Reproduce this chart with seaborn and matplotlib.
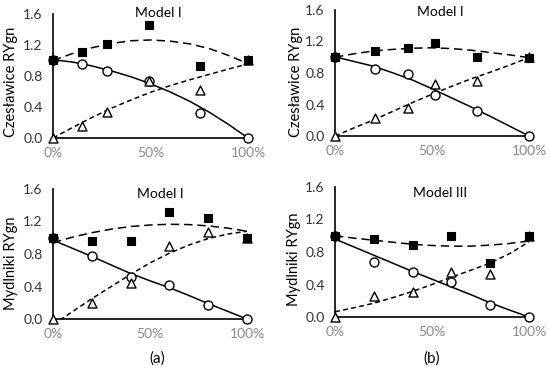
import matplotlib
matplotlib.use("Agg")
import matplotlib.pyplot as plt
import seaborn as sns
import pandas as pd

# ---------------- data ----------------
x_fit = [0.0, 0.1, 0.2, 0.3, 0.4, 0.5, 0.6, 0.7, 0.8, 0.9, 1.0]

# Panel 1: Czesławice, Model I (a)
x_pts1 = [0.0, 0.147, 0.275, 0.493, 0.755, 1.0]
sq1 = [1.0, 1.106, 1.213, 1.458, 0.933, 1.006]
ci1 = [1.0, 0.95, 0.868, 0.735, 0.32, 0.0]
tr1 = [0.0, 0.155, 0.33, 0.735, 0.62, 1.0]
fit_sq1 = [1.0, 1.09, 1.165, 1.22, 1.255, 1.265, 1.25, 1.215, 1.155, 1.065, 0.96]
fit_ci1 = [1.01, 0.98, 0.93, 0.865, 0.79, 0.70, 0.595, 0.475, 0.335, 0.175, 0.0]
fit_tr1 = [0.0, 0.135, 0.265, 0.385, 0.49, 0.59, 0.675, 0.75, 0.82, 0.89, 0.955]

# Panel 2: Czesławice, Model I (b)
x_pts2 = [0.0, 0.206, 0.378, 0.515, 0.734, 1.0]
sq2 = [1.0, 1.083, 1.114, 1.185, 1.007, 0.994]
ci2 = [1.0, 0.851, 0.787, 0.52, 0.317, 0.0]
tr2 = [0.0, 0.225, 0.352, 0.66, 0.698, 1.0]
fit_sq2 = [1.0, 1.045, 1.08, 1.10, 1.115, 1.12, 1.11, 1.09, 1.06, 1.03, 0.995]
fit_ci2 = [1.005, 0.945, 0.885, 0.80, 0.71, 0.60, 0.485, 0.37, 0.25, 0.125, 0.0]
fit_tr2 = [0.0, 0.105, 0.205, 0.315, 0.425, 0.53, 0.63, 0.725, 0.81, 0.90, 0.995]

# Panel 3: Mydlniki, Model I (a)
x_pts3 = [0.0, 0.2, 0.4, 0.6, 0.8, 1.0]
sq3 = [1.0, 0.96, 0.96, 1.313, 1.247, 1.0]
ci3 = [1.0, 0.775, 0.52, 0.418, 0.172, 0.0]
tr3 = [0.0, 0.193, 0.44, 0.898, 1.075, 1.0]
fit_sq3 = [0.94, 1.007, 1.062, 1.106, 1.138, 1.157, 1.166, 1.162, 1.146, 1.119, 1.08]
fit_ci3 = [0.97, 0.87, 0.77, 0.665, 0.56, 0.47, 0.385, 0.29, 0.19, 0.095, 0.0]
fit_tr3 = [-0.07, 0.09, 0.25, 0.40, 0.55, 0.69, 0.81, 0.91, 0.99, 1.045, 1.08]

# Panel 4: Mydlniki, Model III (b)
x_pts4 = [0.0, 0.2, 0.4, 0.6, 0.8, 1.0]
sq4 = [1.0, 0.956, 0.886, 0.997, 0.66, 1.0]
ci4 = [1.0, 0.68, 0.557, 0.427, 0.148, 0.0]
tr4 = [0.0, 0.262, 0.31, 0.557, 0.525, 1.0]
fit_sq4 = [1.0, 0.97, 0.945, 0.92, 0.895, 0.88, 0.872, 0.872, 0.885, 0.905, 0.935]
fit_ci4 = [0.96, 0.86, 0.76, 0.66, 0.56, 0.465, 0.37, 0.275, 0.175, 0.085, 0.0]
fit_tr4 = [0.065, 0.115, 0.17, 0.24, 0.315, 0.40, 0.49, 0.575, 0.665, 0.78, 0.925]

y_ticks = [0.0, 0.4, 0.8, 1.2, 1.6]
y_tick_labels = ["0.0", "0.4", "0.8", "1.2", "1.6"]
x_ticks = [0.0, 0.5, 1.0]
x_tick_labels = ["0%", "50%", "100%"]

titles = ["Model I", "Model I", "Model I", "Model III"]
ylabels = ["Czesławice RYgn", "Czesławice RYgn", "Mydlniki RYgn", "Mydlniki RYgn"]
panel_labels = ["(a)", "(b)"]

# ---------------- style ----------------
sns.set_style("white")
plt.rcParams["font.family"] = ["Lato", "DejaVu Sans"]

W, H = 550, 374
fig = plt.figure(figsize=(W / 100, H / 100), dpi=100)

# axes boxes in pixels: (x0, x1, y_top, y_bottom)
boxes = [(53, 248, 14, 138), (335, 529, 10, 136),
         (53, 247, 189, 319), (335, 529, 187, 317)]
title_pos = [(158, 13), (440, 12), (160, 194), (440, 193)]
ylabel_pos = [(11, 82), (296, 82), (11, 263), (294, 259)]

panels = [
    (x_pts1, sq1, ci1, tr1, fit_sq1, fit_ci1, fit_tr1),
    (x_pts2, sq2, ci2, tr2, fit_sq2, fit_ci2, fit_tr2),
    (x_pts3, sq3, ci3, tr3, fit_sq3, fit_ci3, fit_tr3),
    (x_pts4, sq4, ci4, tr4, fit_sq4, fit_ci4, fit_tr4),
]

FS = 10
TFS = 10
LFS = 10.5
for i, (box, data) in enumerate(zip(boxes, panels)):
    x0, x1, yt, yb = box
    ax = fig.add_axes([x0 / W, 1 - yb / H, (x1 - x0) / W, (yb - yt) / H])
    xp, sq, ci, tr, fsq, fci, ftr = data
    df_fit = pd.DataFrame({"x": x_fit, "sq": fsq, "ci": fci, "tr": ftr})
    df_pts = pd.DataFrame({"x": xp, "sq": sq, "ci": ci, "tr": tr})

    sns.lineplot(data=df_fit, x="x", y="ci", ax=ax, color="black", lw=1.1,
                 estimator=None, sort=False, zorder=2)
    sns.lineplot(data=df_fit, x="x", y="sq", ax=ax, color="black", lw=1.1,
                 linestyle=(0, (5.5, 3.2)), estimator=None, sort=False, zorder=2)
    sns.lineplot(data=df_fit, x="x", y="tr", ax=ax, color="black", lw=1.1,
                 linestyle=(0, (3.2, 2.2)), estimator=None, sort=False, zorder=2)

    sns.scatterplot(data=df_pts, x="x", y="ci", ax=ax, marker="o", s=42,
                    color="white", edgecolor="black", linewidth=1.0,
                    clip_on=False, zorder=3)
    sns.scatterplot(data=df_pts, x="x", y="tr", ax=ax, marker="^", s=42,
                    color="white", edgecolor="black", linewidth=1.0,
                    clip_on=False, zorder=4)
    sns.scatterplot(data=df_pts, x="x", y="sq", ax=ax, marker="s", s=38,
                    color="black", edgecolor="black", linewidth=0.8,
                    clip_on=False, zorder=5)

    ax.set_xlim(0, 1)
    ax.set_ylim(0, 1.6)
    ax.set_yticks(y_ticks)
    ax.set_yticklabels(y_tick_labels)
    ax.set_xticks(x_ticks)
    ax.set_xticklabels(x_tick_labels)
    ax.tick_params(axis="y", length=0, pad=7.5, labelsize=FS, labelcolor="#333333")
    ax.tick_params(axis="x", length=0, pad=6.5, labelsize=FS, labelcolor="#8a8a8a")
    ax.set_xlabel("")
    ax.set_ylabel("")
    for s in ["top", "right"]:
        ax.spines[s].set_visible(False)
    for s in ["left", "bottom"]:
        ax.spines[s].set_color("black")
        ax.spines[s].set_linewidth(1.2)
    ax.set_facecolor("white")
    ax.grid(False)

    tx, ty = title_pos[i]
    fig.text(tx / W, 1 - ty / H, titles[i], ha="center", va="center",
             fontsize=TFS, color="black")
    lx, ly = ylabel_pos[i]
    fig.text(lx / W, 1 - ly / H, ylabels[i], ha="center", va="center",
             rotation=90, fontsize=LFS, color="black")

fig.text(157 / W, 1 - 359 / H, panel_labels[0], ha="center", va="center",
         fontsize=11, color="black")
fig.text(432 / W, 1 - 359 / H, panel_labels[1], ha="center", va="center",
         fontsize=11, color="black")

fig.savefig("out.png", dpi=100, facecolor="white")
